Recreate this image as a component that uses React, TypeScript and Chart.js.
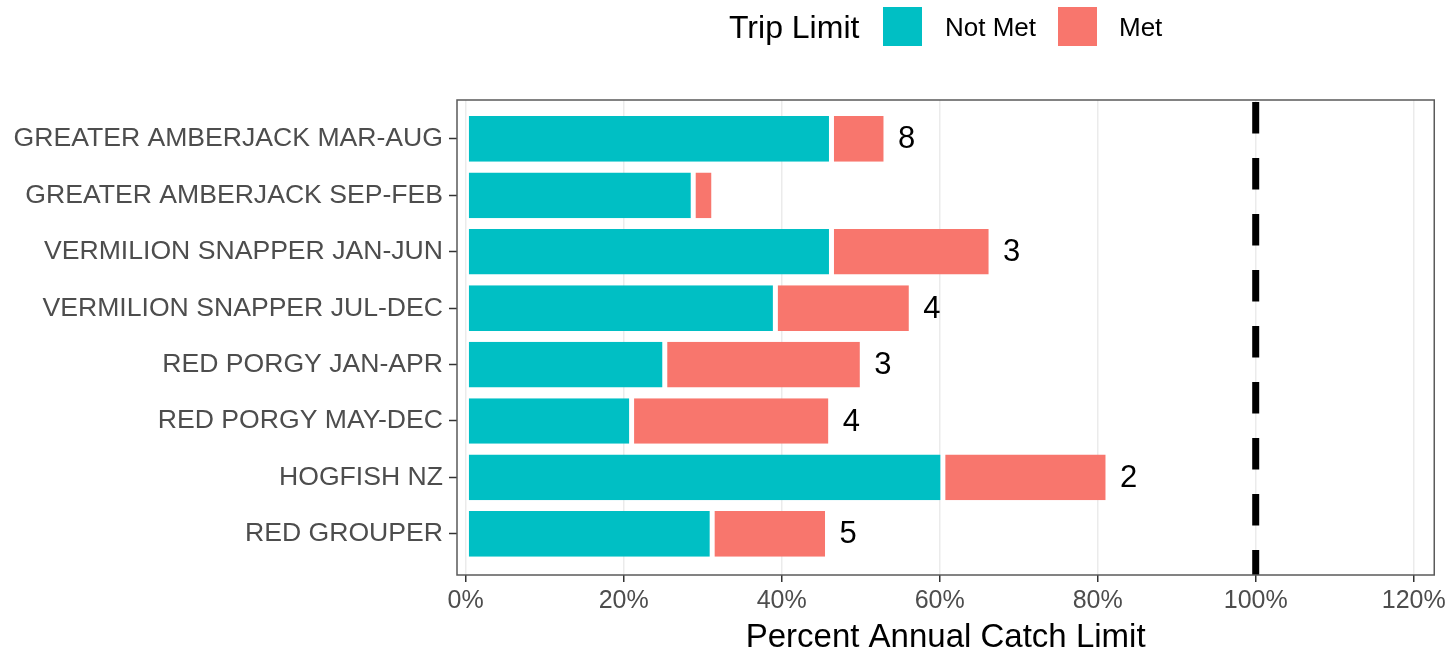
import React, { useEffect, useRef } from "react";
import { Chart, registerables } from "chart.js";

Chart.register(...registerables);

const categories = [
  "GREATER AMBERJACK MAR-AUG",
  "GREATER AMBERJACK SEP-FEB",
  "VERMILION SNAPPER JAN-JUN",
  "VERMILION SNAPPER JUL-DEC",
  "RED PORGY JAN-APR",
  "RED PORGY MAY-DEC",
  "HOGFISH NZ",
  "RED GROUPER",
];
const notMetValues = [46.3, 28.8, 46.3, 39.2, 25.2, 21.0, 60.4, 31.2];
const metValues = [6.9, 2.6, 20.2, 17.2, 25.0, 25.2, 20.9, 14.6];
const tripCounts: (number | null)[] = [8, null, 3, 4, 3, 4, 2, 5];
const xTickValues = [0, 20, 40, 60, 80, 100, 120];
const referenceLine = 100;
const seriesLabels = ["Not Met", "Met"];
const seriesColors = ["#00BFC4", "#F8766D"];
const legendTitle = "Trip Limit";
const xAxisTitle = "Percent Annual Catch Limit";

const FONT = "'Liberation Sans', Arial, sans-serif";

export default function App() {
  const canvasRef = useRef<HTMLCanvasElement | null>(null);

  useEffect(() => {
    document.body.style.margin = "0";
    const canvas = canvasRef.current;
    if (!canvas) return;

    const overlay = {
      id: "overlay",
      afterDatasetsDraw(chart: any) {
        const ctx = chart.ctx;
        const area = chart.chartArea;
        const xs = chart.scales.x;
        // dashed reference line
        const xr = xs.getPixelForValue(referenceLine);
        ctx.save();
        ctx.strokeStyle = "#000000";
        ctx.lineWidth = 7;
        ctx.setLineDash([31.5, 24.5]);
        ctx.beginPath();
        ctx.moveTo(xr, area.top + 2);
        ctx.lineTo(xr, area.bottom);
        ctx.stroke();
        ctx.restore();

        // count labels
        const meta = chart.getDatasetMeta(1);
        ctx.save();
        ctx.fillStyle = "#000000";
        ctx.font = `31px ${FONT}`;
        ctx.textAlign = "left";
        ctx.textBaseline = "middle";
        meta.data.forEach((bar: any, i: number) => {
          const c = tripCounts[i];
          if (c === null || c === undefined) return;
          ctx.fillText(String(c), bar.x + 12, bar.y + 1);
        });
        ctx.restore();
      },
      afterDraw(chart: any) {
        const ctx = chart.ctx;
        const area = chart.chartArea;
        // panel border
        ctx.save();
        ctx.strokeStyle = "#5a5a5a";
        ctx.lineWidth = 1.5;
        ctx.strokeRect(area.left, area.top, area.right - area.left, area.bottom - area.top);
        ctx.restore();

        // legend
        ctx.save();
        ctx.textBaseline = "middle";
        ctx.textAlign = "left";
        ctx.fillStyle = "#000000";
        ctx.font = `32px ${FONT}`;
        ctx.fillText(legendTitle, 729, 29);
        const keyX = [883, 1058];
        const textX = [945, 1119];
        seriesLabels.forEach((lab, i) => {
          ctx.fillStyle = seriesColors[i];
          ctx.fillRect(keyX[i], 7, 39, 39);
          ctx.fillStyle = "#000000";
          ctx.font = `26px ${FONT}`;
          ctx.fillText(lab, textX[i], 29);
        });
        ctx.restore();
      },
    };

    const mkData = (vals: number[]) => vals.map((v, i) => ({ x: v, y: i }));

    const chart = new Chart(canvas, {
      type: "bar",
      data: {
        datasets: [
          {
            label: seriesLabels[0],
            data: mkData(notMetValues),
            backgroundColor: seriesColors[0],
            borderColor: "#ffffff",
            borderWidth: { left: 2.5, right: 2.5, top: 0, bottom: 0 },
            borderSkipped: false,
          },
          {
            label: seriesLabels[1],
            data: mkData(metValues),
            backgroundColor: seriesColors[1],
            borderColor: "#ffffff",
            borderWidth: { left: 2.5, right: 2.5, top: 0, bottom: 0 },
            borderSkipped: false,
          },
        ],
      } as any,
      options: {
        indexAxis: "y",
        animation: false,
        responsive: false,
        maintainAspectRatio: false,
        categoryPercentage: 1,
        barPercentage: 0.81,
        layout: { padding: { top: 100, right: 15, bottom: 0, left: 0 } },
        plugins: {
          legend: { display: false },
          tooltip: { enabled: false },
          title: { display: false },
        },
        scales: {
          x: {
            type: "linear",
            stacked: true,
            min: -1.1,
            max: 122.6,
            afterBuildTicks: (scale: any) => {
              scale.ticks = xTickValues.map((v) => ({ value: v }));
            },
            afterFit: (scale: any) => {
              scale.height = 79;
            },
            border: { display: false },
            grid: {
              color: "#EBEBEB",
              lineWidth: 1.5,
              drawTicks: true,
              tickLength: 7,
              tickColor: "#333333",
              tickWidth: 1.5,
            },
            ticks: {
              callback: (v: any) => `${v}%`,
              color: "#4D4D4D",
              font: { family: FONT, size: 25 },
              padding: 4,
              maxRotation: 0,
              autoSkip: false,
            },
            title: {
              display: true,
              text: xAxisTitle,
              color: "#000000",
              font: { family: FONT, size: 33, lineHeight: 1 },
              padding: { top: 0, bottom: 0 },
            },
          },
          y: {
            type: "linear",
            stacked: true,
            reverse: true,
            offset: false,
            min: -0.69,
            max: 7.73,
            afterBuildTicks: (scale: any) => {
              scale.ticks = categories.map((_, i) => ({ value: i }));
            },
            afterFit: (scale: any) => {
              scale.width = 457;
            },
            border: { display: false },
            grid: {
              offset: false,
              drawOnChartArea: false,
              drawTicks: true,
              tickLength: 8,
              tickColor: "#333333",
              tickWidth: 1.5,
            },
            ticks: {
              callback: (v: any) => categories[v] ?? "",
              color: "#4D4D4D",
              font: { family: FONT, size: 26.6 },
              padding: 6,
              autoSkip: false,
            },
          },
        },
      } as any,
      plugins: [overlay],
    });

    return () => chart.destroy();
  }, []);

  return (
    <div style={{ width: 1450, height: 654, background: "#ffffff" }}>
      <canvas ref={canvasRef} width={1450} height={654} style={{ display: "block" }} />
    </div>
  );
}
